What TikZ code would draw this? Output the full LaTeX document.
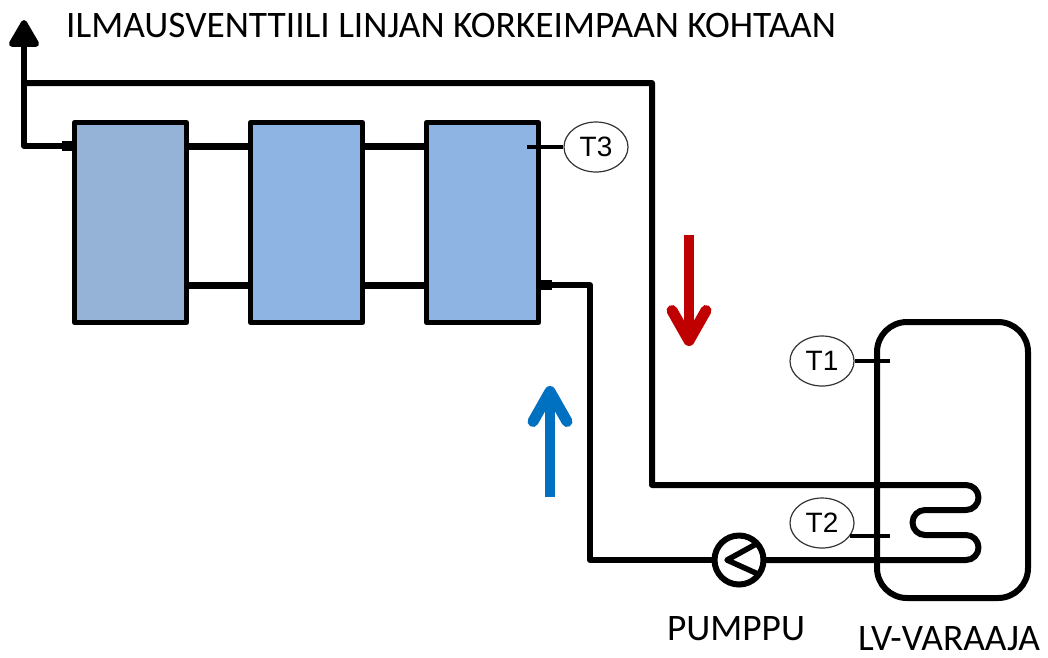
\documentclass[tikz,border=0pt]{standalone}
\usepackage{fontspec}
\setmainfont{Carlito}
\setsansfont{Liberation Sans}
\usetikzlibrary{arrows.meta,shapes.geometric}
\definecolor{radone}{RGB}{149,179,215}
\definecolor{radtwo}{RGB}{141,180,226}
\definecolor{hotred}{RGB}{192,0,0}
\definecolor{coldblue}{RGB}{0,112,192}

\begin{document}
\begin{tikzpicture}[x=1pt,y=-1pt,line join=round,
    pipe/.style={line width=6pt},
    stub/.style={line width=10pt},
    probe/.style={line width=3.5pt},
    rad node/.style={rectangle,draw,line width=5pt,minimum width=112pt,minimum height=200pt,inner sep=0pt,outer sep=0pt},
    temp node/.style={ellipse,draw=black!80,line width=1.2pt,fill=white,minimum width=64pt,minimum height=50pt,inner sep=0pt,font=\sffamily\fontsize{28}{28}\selectfont},
    flow/.style={line width=9.5pt,-{Straight Barb[length=30pt,width=34pt,line width=11pt,round]}},
    label node/.style={inner sep=0pt,anchor=base,font=\fontsize{37.4}{37.4}\selectfont}]
    \useasboundingbox (0,0) rectangle (1048,657);

    \node[rad node, fill=radone] (r1) at (130.5,222.5) {};
    \node[rad node, fill=radtwo] (r2) at (306.5,222.5) {};
    \node[rad node, fill=radtwo] (r3) at (482.5,222.5) {};
    \node[rectangle,draw,line width=6pt,rounded corners=30pt,minimum width=151pt,minimum height=276pt,inner sep=0pt,outer sep=0pt] (tank) at (952.5,460) {};
    \node[circle,draw,line width=6pt,fill=white,minimum size=49pt,inner sep=0pt,outer sep=0pt] (pump) at (739,560) {};

    \coordinate (ventb) at (24,146);
    \coordinate (vent1) at (24,83);
    \coordinate (ventt) at (24,20);
    \coordinate (top) at (652,83);
    \coordinate (c1) at (652,485);
    \coordinate (c2) at (590,285);
    \coordinate (c3) at (590,560);

    % flow and return pipes
    \draw[pipe] (r1.west |- ventb) -- (ventb) -- (vent1);
    \draw[pipe,-{Triangle[length=30pt,width=33pt,round]}] (vent1) -- (ventt);
    \draw[pipe] (vent1) -- (top) -- (c1) -- (966,485)
        arc (-90:90:12.5) -- (925,510) arc (270:90:12.5) -- (966,535) arc (-90:90:12.5)
        -- (pump.east);
    \draw[pipe] (pump.west) -- (c3) -- (c2) -- (r3.east |- c2);

    \draw[stub] (r1.west |- ventb) -- ++(-13,0);
    \draw[stub] (r3.east |- c2) -- ++(13,0);
    \foreach \a/\b in {r1/r2,r2/r3} {
        \draw[pipe,line width=7pt] (\a.east |- 0,146) -- (\b.west |- 0,146);
        \draw[pipe,line width=7pt] (\a.east |- 0,285) -- (\b.west |- 0,285);
    }

    % pump symbol
    \draw[line width=5.5pt] (758,543) -- (727,560) -- (758,574);

    % sensors
    \node[temp node] (t3) at (596,147) {T3};
    \node[temp node] (t1) at (822,361) {T1};
    \node[temp node] (t2) at (822,523) {T2};
    \draw[probe] (t3.west) -- (527,147);
    \draw[probe] (t1.east) -- (890,361);
    \draw[probe] (850,536) -- (890,536);

    % flow direction
    \draw[flow,draw=hotred] (689,235) -- (689,346);
    \draw[flow,draw=coldblue] (550,497) -- (550,386);

    \node[label node, anchor=base west] (vent) at (66,37) {ILMAUSVENTTIILI LINJAN KORKEIMPAAN KOHTAAN};
    \node[label node] (pumplabel) at (736,640) {PUMPPU};
    \node[label node] (tanklabel) at (949,650) {LV-VARAAJA};
\end{tikzpicture}
\end{document}
